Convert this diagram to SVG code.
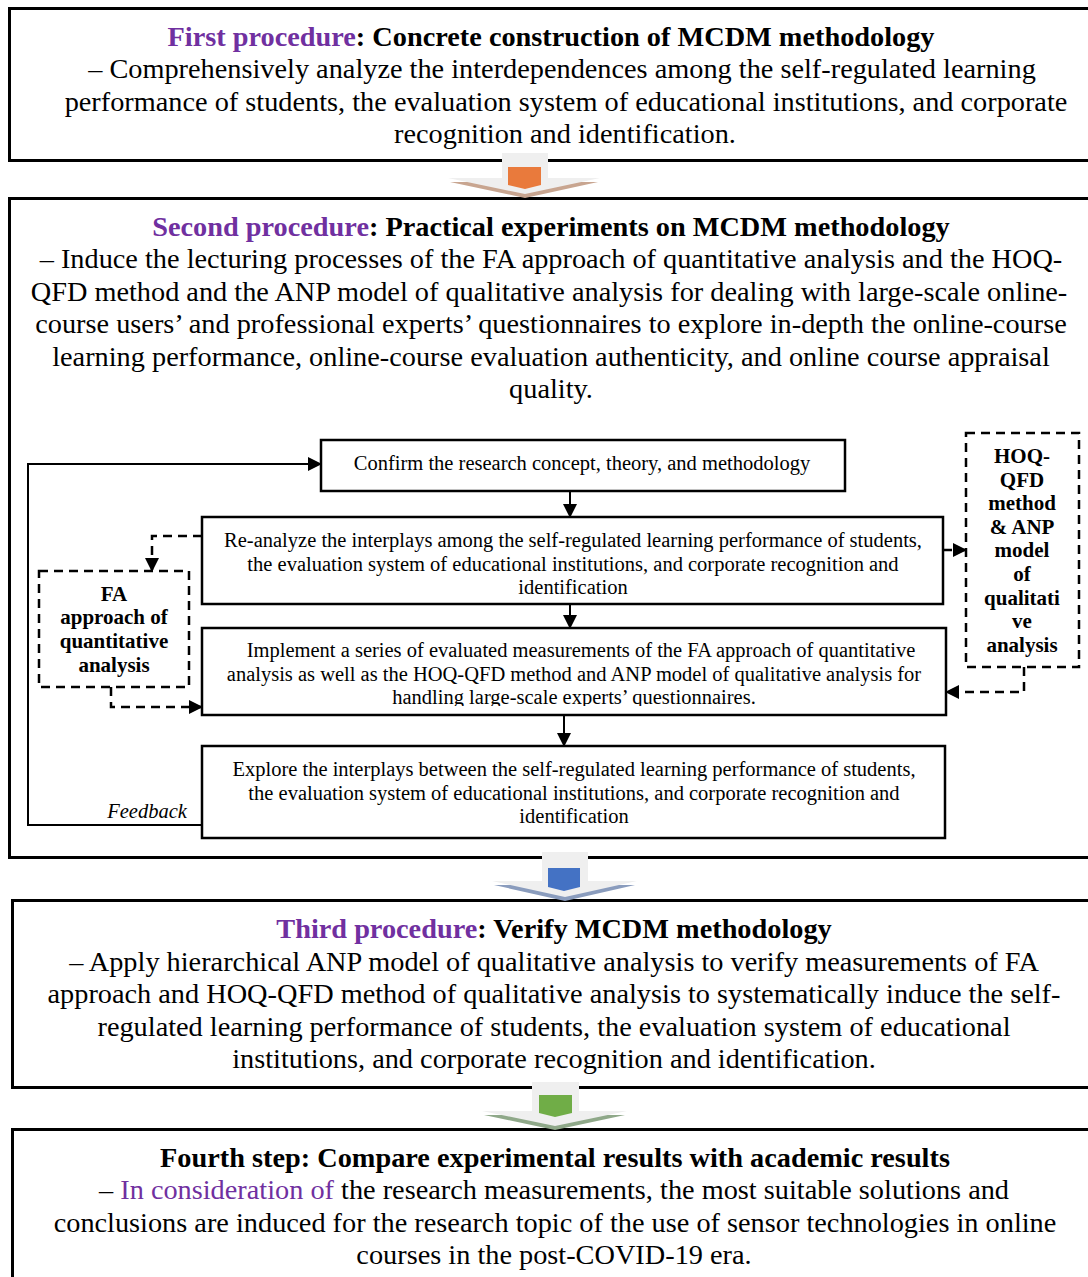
<svg xmlns="http://www.w3.org/2000/svg" width="1088" height="1277" viewBox="0 0 1088 1277">
<style>
.big{font-family:"Liberation Serif","Times New Roman",serif;font-size:28.3px;fill:#000;text-anchor:middle}
.b{font-weight:bold}
.pur{fill:#7030A0}
.sm{font-family:"Liberation Serif","Times New Roman",serif;font-size:20.5px;fill:#000;text-anchor:middle}
.sb{font-family:"Liberation Serif","Times New Roman",serif;font-size:21px;font-weight:bold;fill:#000;text-anchor:middle}
.frame{fill:#fff;stroke:#000;stroke-width:3}
.box{fill:#fff;stroke:#000;stroke-width:2.5}
.dbox{fill:#fff;stroke:#000;stroke-width:2.5;stroke-dasharray:9 6}
.con{fill:none;stroke:#000;stroke-width:2}
.dcon{fill:none;stroke:#000;stroke-width:2.5;stroke-dasharray:9 6}
.gray{fill:#EFEFEF}
</style>
<defs>
<marker id="ah" markerUnits="userSpaceOnUse" markerWidth="14" markerHeight="14" viewBox="0 0 14 14" refX="13" refY="7" orient="auto">
<path d="M0,0 L14,7 L0,14 z" fill="#000"/>
</marker>
<clipPath id="clipC"><rect x="202" y="628" width="744" height="78"/></clipPath>
</defs>
<rect width="1088" height="1277" fill="#fff"/>

<g id="box1">
<rect class="frame" x="9.5" y="8.5" width="1090" height="152"/>
<text class="big b" x="551" y="46"><tspan class="pur">First procedure</tspan>: Concrete construction of MCDM methodology</text>
<text class="big" x="562" y="78">– Comprehensively analyze the interdependences among the self-regulated learning</text>
<text class="big" x="566" y="111">performance of students, the evaluation system of educational institutions, and corporate</text>
<text class="big" x="565" y="143">recognition and identification.</text>
</g>

<g id="box2">
<rect class="frame" x="9.5" y="198.5" width="1090" height="659"/>
<text class="big b" x="551" y="236"><tspan class="pur">Second procedure</tspan>: Practical experiments on MCDM methodology</text>
<text class="big" x="551" y="268">– Induce the lecturing processes of the FA approach of quantitative analysis and the HOQ-</text>
<text class="big" x="549" y="301">QFD method and the ANP model of qualitative analysis for dealing with large-scale online-</text>
<text class="big" x="551" y="333">course users’ and professional experts’ questionnaires to explore in-depth the online-course</text>
<text class="big" x="551" y="366">learning performance, online-course evaluation authenticity, and online course appraisal</text>
<text class="big" x="551" y="398">quality.</text>
</g>

<g id="box3">
<rect class="frame" x="12.5" y="900.5" width="1090" height="187"/>
<text class="big b" x="554" y="938"><tspan class="pur">Third procedure</tspan>: Verify MCDM methodology</text>
<text class="big" x="554" y="971">– Apply hierarchical ANP model of qualitative analysis to verify measurements of FA</text>
<text class="big" x="554" y="1003">approach and HOQ-QFD method of qualitative analysis to systematically induce the self-</text>
<text class="big" x="554" y="1036">regulated learning performance of students, the evaluation system of educational</text>
<text class="big" x="554" y="1068">institutions, and corporate recognition and identification.</text>
</g>

<g id="box4">
<rect class="frame" x="12.5" y="1129.5" width="1090" height="170"/>
<text class="big b" x="555" y="1167">Fourth step: Compare experimental results with academic results</text>
<text class="big" x="554" y="1199">– <tspan class="pur">In consideration of</tspan> the research measurements, the most suitable solutions and</text>
<text class="big" x="555" y="1232">conclusions are induced for the research topic of the use of sensor technologies in online</text>
<text class="big" x="554" y="1264">courses in the post-COVID-19 era.</text>
</g>

<g id="arrow1">
<rect class="gray" x="502" y="153" width="46" height="30"/>
<polygon points="450,182 598,182 525,198" fill="#C8A590"/>
<polygon points="448,178 600,178 525,194" fill="#EFEFEF"/>
<polygon points="508,167 541,167 541,185 525,189 508,185" fill="#E97A3C"/>
</g>
<g id="arrow2">
<rect class="gray" x="542" y="852" width="46" height="32"/>
<polygon points="494,885 635,885 565,901" fill="#8A9CBD"/>
<polygon points="492,881 637,881 565,897" fill="#EFEFEF"/>
<polygon points="548,868 580,868 580,887 564,891 548,887" fill="#4472C4"/>
</g>
<g id="arrow3">
<rect class="gray" x="532" y="1082" width="47" height="31"/>
<polygon points="484,1115 625,1115 555,1130" fill="#8FA889"/>
<polygon points="482,1111 627,1111 555,1126" fill="#EFEFEF"/>
<polygon points="539,1095 572,1095 572,1113 555,1117 539,1113" fill="#70AD47"/>
</g>

<g id="nodeA">
<rect class="box" x="321" y="440" width="524" height="51"/>
<text class="sm" x="582" y="470">Confirm the research concept, theory, and methodology</text>
</g>
<g id="nodeB">
<rect class="box" x="202" y="517" width="741" height="87"/>
<text class="sm" x="573" y="547">Re-analyze the interplays among the self-regulated learning performance of students,</text>
<text class="sm" x="573" y="571">the evaluation system of educational institutions, and corporate recognition and</text>
<text class="sm" x="573" y="594">identification</text>
</g>
<g id="nodeC">
<rect class="box" x="202" y="628" width="744" height="87"/>
<text class="sm" x="581" y="657">Implement a series of evaluated measurements of the FA approach of quantitative</text>
<text class="sm" x="574" y="681">analysis as well as the HOQ-QFD method and ANP model of qualitative analysis for</text>
<text class="sm" x="574" y="704" clip-path="url(#clipC)">handling large-scale experts’ questionnaires.</text>
</g>
<g id="nodeD">
<rect class="box" x="202" y="746" width="743" height="92"/>
<text class="sm" x="574" y="776">Explore the interplays between the self-regulated learning performance of students,</text>
<text class="sm" x="574" y="800">the evaluation system of educational institutions, and corporate recognition and</text>
<text class="sm" x="574" y="823">identification</text>
</g>
<g id="nodeFA">
<rect class="dbox" x="39" y="571" width="150" height="116"/>
<text class="sb" x="114" y="601">FA</text>
<text class="sb" x="114" y="624">approach of</text>
<text class="sb" x="114" y="648">quantitative</text>
<text class="sb" x="114" y="672">analysis</text>
</g>
<g id="nodeHOQ">
<rect class="dbox" x="966" y="433" width="113" height="234"/>
<text class="sb" x="1022" y="463">HOQ-</text>
<text class="sb" x="1022" y="487">QFD</text>
<text class="sb" x="1022" y="510">method</text>
<text class="sb" x="1022" y="534">&amp; ANP</text>
<text class="sb" x="1022" y="557">model</text>
<text class="sb" x="1022" y="581">of</text>
<text class="sb" x="1022" y="605">qualitati</text>
<text class="sb" x="1022" y="628">ve</text>
<text class="sb" x="1022" y="652">analysis</text>
</g>

<g id="connectors">
<polyline class="con" points="202,825 28,825 28,464 321,464" marker-end="url(#ah)"/>
<line class="con" x1="570" y1="491" x2="570" y2="517" marker-end="url(#ah)"/>
<line class="con" x1="570" y1="604" x2="570" y2="628" marker-end="url(#ah)"/>
<line class="con" x1="564" y1="715" x2="564" y2="746" marker-end="url(#ah)"/>
<polyline class="dcon" points="202,536 152,536 152,571" marker-end="url(#ah)"/>
<polyline class="dcon" points="111,687 111,707 202,707" marker-end="url(#ah)"/>
<line class="dcon" x1="943" y1="550" x2="966" y2="550" marker-end="url(#ah)"/>
<polyline class="dcon" points="1024,667 1024,692 946,692" marker-end="url(#ah)"/>
<text x="147" y="818" style="font-family:'Liberation Serif','Times New Roman',serif;font-size:20.5px;font-style:italic;text-anchor:middle">Feedback</text>
</g>
</svg>
